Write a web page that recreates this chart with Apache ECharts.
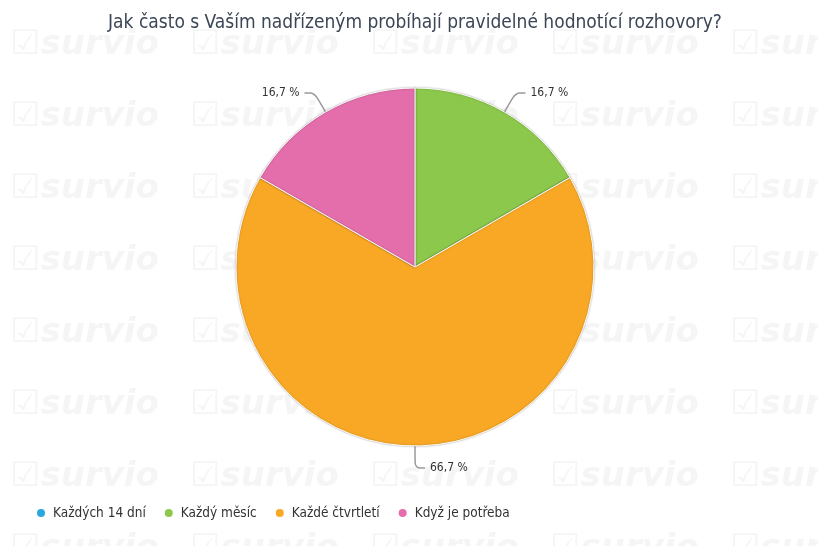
<!DOCTYPE html>
<html><head><meta charset="utf-8">
<script src="https://cdn.jsdelivr.net/npm/echarts@6/dist/echarts.min.js"></script>
<style>html,body{margin:0;padding:0;background:#fff}#c{width:818px;height:546px}</style>
</head><body><div id="c"></div>
<script>
const title = 'Jak často s Vaším nadřízeným probíhají pravidelné hodnotící rozhovory?';
const categories = ['Každých 14 dní', 'Každý měsíc', 'Každé čtvrtletí', 'Když je potřeba'];
const values = [0, 1, 4, 1];
const colors = ['#29a8e0', '#8cc84b', '#f9a825', '#e46eab'];

const total = values.reduce((a, b) => a + b, 0);
const data = categories.map((name, i) => {
  const item = { name, value: values[i], itemStyle: { color: colors[i] } };
  if (values[i] === 0) { item.label = { show: false }; item.labelLine = { show: false }; }
  return item;
});

// faint background watermark
const wm = [];
for (let r = 0; r < 8; r++) {
  for (let c = 0; c < 5; c++) {
    wm.push({
      type: 'text', silent: true, z: -10,
      x: 10 + c * 180, y: 28 + r * 72,
      style: { text: '☑survio', fill: '#f5f5f5', font: 'italic bold 34px "DejaVu Sans"' }
    });
  }
}

const chart = echarts.init(document.getElementById('c'), null, { renderer: 'canvas' });
chart.setOption({
  backgroundColor: '#fff',
  animation: false,
  graphic: wm,
  title: {
    text: title, left: 410, textAlign: 'center', top: 9,
    textStyle: { fontFamily: 'DejaVu Sans Condensed', fontSize: 19, fontWeight: 'normal', color: '#3b4656' }
  },
  legend: {
    left: 30, top: 501, icon: 'circle', itemWidth: 14, itemHeight: 10, itemGap: 17,
    textStyle: { fontFamily: 'DejaVu Sans Condensed', fontSize: 13.5, color: '#333' },
    data: categories
  },
  series: [{
    type: 'pie',
    center: [415, 267], radius: 179,
    startAngle: 90, clockwise: true,
    data,
    itemStyle: { borderColor: '#fff', borderWidth: 1, shadowBlur: 2, shadowColor: 'rgba(0,0,0,0.3)' },
    label: {
      fontFamily: 'DejaVu Sans Condensed', fontSize: 12, color: '#333',
      formatter: p => (p.value / total * 100).toFixed(1).replace('.', ',') + ' %'
    },
    labelLine: { length: 22, length2: 10, smooth: 0.3, lineStyle: { color: '#999', width: 1.5 } },
    emphasis: { disabled: true }
  }]
});
</script></body></html>
